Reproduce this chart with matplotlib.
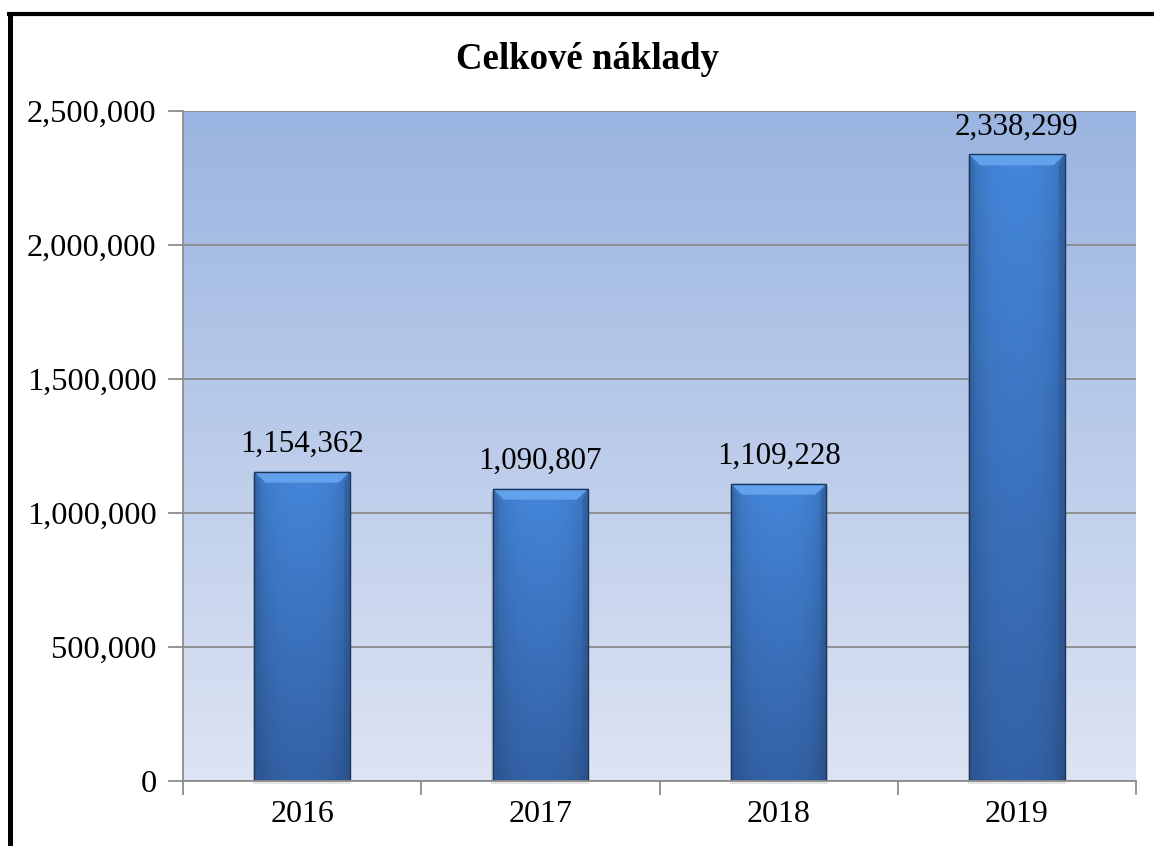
import matplotlib
matplotlib.use("Agg")
import matplotlib.pyplot as plt
import numpy as np
from matplotlib.patches import Rectangle, Polygon
from matplotlib.colors import LinearSegmentedColormap
from matplotlib.ticker import FuncFormatter, MultipleLocator, FixedLocator

categories = ["2016", "2017", "2018", "2019"]
values = [1154362, 1090807, 1109228, 2338299]
title = "Celkové náklady"

plt.rcParams['font.family'] = ['Liberation Serif', 'DejaVu Serif']

fig = plt.figure(figsize=(11.54, 8.46), dpi=100)
ax = fig.add_axes([0.1586, 0.0768, 0.8258, 0.792])

x = np.arange(len(categories))
ymax = 2500000
ax.set_xlim(-0.5, len(categories) - 0.5)
ax.set_ylim(0, ymax)

# background gradient
bg = LinearSegmentedColormap.from_list("bg", ["#dde4f3", "#9ab4e1"])
grad = np.linspace(0, 1, 256).reshape(-1, 1)
ax.imshow(grad, cmap=bg, aspect="auto", origin="lower",
          extent=[-0.5, len(categories) - 0.5, 0, ymax], zorder=0)

ax.yaxis.set_major_locator(MultipleLocator(500000))
ax.grid(axis="y", color="#8c8c8c", linewidth=1.3, zorder=1)
ax.set_axisbelow(False)

bw = 0.4
# bar gradient: horizontal shading combined with vertical
nx, ny = 200, 300
hx = np.linspace(-1, 1, nx)
hshade = 1 - 0.18 * np.abs(hx) ** 3
vy = np.linspace(0, 1, ny).reshape(ny, 1, 1)
top_c = (np.array([0x44, 0x86, 0xd9]) / 255.0).reshape(1, 1, 3)
bot_c = (np.array([0x33, 0x61, 0xa5]) / 255.0).reshape(1, 1, 3)
base = bot_c + (top_c - bot_c) * vy
img_template = np.clip(base * hshade.reshape(1, nx, 1), 0, 1)

# pixel-to-data conversions
fig.canvas.draw()
pix_per_x = ax.transData.transform((1, 0))[0] - ax.transData.transform((0, 0))[0]
pix_per_y = ax.transData.transform((0, 1))[1] - ax.transData.transform((0, 0))[1]
bev_px = 11
bev_dx = bev_px / pix_per_x
bev_dy = bev_px / pix_per_y

for xi, v in zip(x, values):
    left, right = xi - bw / 2, xi + bw / 2
    # shadow
    sh = Rectangle((left - 0.006, -3 / pix_per_y), bw + 0.012, v, facecolor="#000000",
                   alpha=0.10, edgecolor="none", zorder=2, clip_on=False)
    ax.add_patch(sh)
    im = ax.imshow(img_template, aspect="auto", origin="lower",
                   extent=[left, right, 0, v], zorder=3)
    clip = Rectangle((left, 0), bw, v, transform=ax.transData)
    im.set_clip_path(clip)
    # bevel top
    top = Polygon([(left, v), (right, v), (right - bev_dx, v - bev_dy), (left + bev_dx, v - bev_dy)],
                  closed=True, facecolor="#62a2ec", edgecolor="none", zorder=4)
    ax.add_patch(top)
    # side bevels (slightly darker)
    lside = Polygon([(left, 0), (left, v), (left + bev_dx * 0.5, v - bev_dy), (left + bev_dx * 0.5, 0)],
                    closed=True, facecolor="#2f5c9c", alpha=0.35, edgecolor="none", zorder=4)
    rside = Polygon([(right, 0), (right, v), (right - bev_dx * 0.5, v - bev_dy), (right - bev_dx * 0.5, 0)],
                    closed=True, facecolor="#2a5290", alpha=0.45, edgecolor="none", zorder=4)
    ax.add_patch(lside)
    ax.add_patch(rside)
    outline = Rectangle((left, 0), bw, v, facecolor="none", edgecolor="#1e3558",
                        linewidth=1.0, zorder=5)
    ax.add_patch(outline)
    ax.annotate(f"{v:,}", (xi, v), xytext=(0, 9), textcoords="offset points",
                ha="center", va="bottom", fontsize=22.3, color="black", zorder=6)

ax.yaxis.set_major_formatter(FuncFormatter(lambda val, pos: f"{int(val):,}"))
ax.set_xticks(x)
ax.set_xticklabels(categories)
ax.xaxis.set_minor_locator(FixedLocator(np.arange(-0.5, len(categories), 1.0)))
ax.tick_params(axis="x", which="major", length=0, pad=14, labelsize=23)
ax.tick_params(axis="x", which="minor", length=10, width=1.3, color="#8c8c8c")
ax.tick_params(axis="y", which="major", length=11, width=1.3, color="#8c8c8c",
               pad=8, labelsize=23.3)

for s in ["top", "right"]:
    ax.spines[s].set_visible(False)
for s in ["left", "bottom"]:
    ax.spines[s].set_color("#8c8c8c")
    ax.spines[s].set_linewidth(1.3)
    ax.spines[s].set_zorder(7)

fig.text(587 / 1154, 1 - 69 / 846, title, ha="center", va="baseline", fontsize=26.6,
         fontweight="bold", color="black")

# outer frame (left and top visible black borders)
fig.add_artist(plt.Line2D([9.5 / 1154, 9.5 / 1154], [0, 1 - 12 / 846], color="black",
                          linewidth=3.6, transform=fig.transFigure, solid_capstyle="butt"))
fig.add_artist(plt.Line2D([7 / 1154, 1], [1 - 14 / 846, 1 - 14 / 846], color="black",
                          linewidth=3.0, transform=fig.transFigure, solid_capstyle="butt"))

fig.savefig("out.png", dpi=100)
